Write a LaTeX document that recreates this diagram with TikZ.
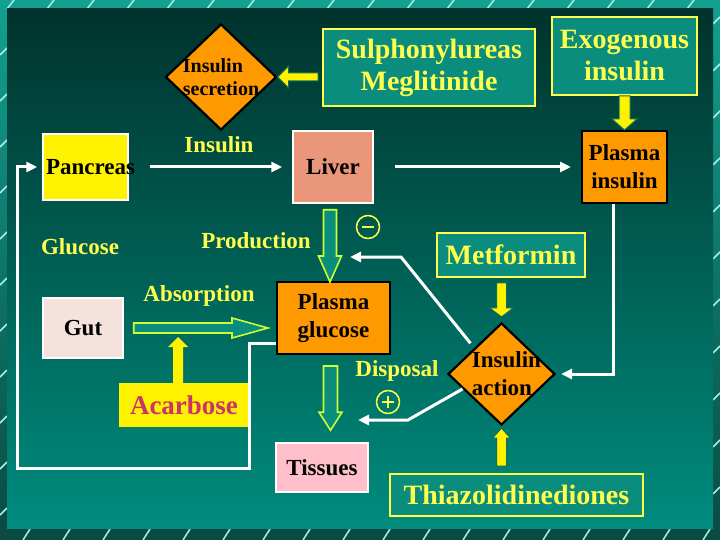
\documentclass[tikz,border=0pt]{standalone}
\usepackage{fontspec}
\setmainfont{Liberation Serif}
\usetikzlibrary{shapes.geometric, arrows.meta, calc, positioning}

\definecolor{frametop}{HTML}{12A090}
\definecolor{framebot}{HTML}{0A4A42}
\definecolor{paneltop}{HTML}{00332C}
\definecolor{panelbot}{HTML}{008C7E}
\definecolor{slashcol}{HTML}{A8F0EC}
\definecolor{txtyellow}{HTML}{FFFF4D}
\definecolor{boxteal}{HTML}{0A8D7D}
\definecolor{limeedge}{HTML}{CCFF33}
\definecolor{darkedge}{HTML}{0E6E5A}
\definecolor{orangefill}{HTML}{FF9900}
\definecolor{salmonfill}{HTML}{E9967A}
\definecolor{gutfill}{HTML}{F6E2DC}
\definecolor{tissuefill}{HTML}{FFC0CB}
\definecolor{acarbtext}{HTML}{CC3366}

\newcommand\slidebig{\fontsize{28}{32}\selectfont\bfseries}
\newcommand\slidemid{\fontsize{23}{28}\selectfont\bfseries}
\newcommand\slidesmall{\fontsize{20}{23}\selectfont\bfseries}

\tikzset{
    arrdims/.code args={#1/#2/#3}{\def\arrsh{#1pt}\def\arrwg{#2pt}\def\arrhd{#3pt}},
    blockarrow/.style={arrdims=#1, to path={let \p1=(\tikztostart), \p2=(\tikztotarget),
        \p3=($(\p2)!\arrhd!(\p1)$) in
        ($(\p1)!\arrsh!90:(\p2)$) -- ($(\p3)!\arrsh!-90:(\p1)$) -- ($(\p3)!\arrwg!-90:(\p1)$)
        -- (\p2) -- ($(\p3)!\arrwg!90:(\p1)$) -- ($(\p3)!\arrsh!90:(\p1)$)
        -- ($(\p1)!\arrsh!-90:(\p2)$) -- cycle}},
    yarrow/.style={fill=yellow, draw=darkedge, line width=1pt},
    hollow/.style={fill=boxteal, draw=limeedge, line width=1.6pt},
    wire/.style={draw=white, line width=3pt, -{Triangle[width=10pt,length=11pt]}},
    tealbox/.style={rectangle, draw=txtyellow, line width=1.6pt, fill=boxteal, text=txtyellow, font=\slidebig, align=center, inner sep=0pt},
    orangebox/.style={rectangle, draw=black, line width=2pt, fill=orangefill, font=\slidemid, align=center, inner sep=0pt},
    whitebox/.style={rectangle, draw=white, line width=1.5pt, font=\slidemid, align=center, inner sep=0pt},
    diam/.style={diamond, draw=black, line width=2.2pt, fill=orangefill, inner sep=0pt},
    lbl/.style={text=txtyellow, font=\slidemid},
    sign/.style={circle, draw=txtyellow, line width=1.5pt, minimum size=23pt, inner sep=0pt},
    slash/.style={draw=slashcol, line width=1.5pt}
}

\begin{document}
\begin{tikzpicture}[x=1pt, y=-1pt]
    % frame and panel
    \path[top color=frametop, bottom color=framebot] (0,0) rectangle (720,540);
    \useasboundingbox (0,0) rectangle (720,540);
    \foreach \x in {7,47,...,700} {
        \draw[slash] (\x,9) -- ++(7,-9);
        \draw[slash] (\x+16,540) -- ++(7,-11);
    }
    \foreach \y in {48,94,...,520} \draw[slash] (0,\y+7) -- ++(7,-7);
    \foreach \y in {17,64,...,530} \draw[slash] (713,\y+7) -- ++(7,-7);
    \path[top color=paneltop, bottom color=panelbot] (7,9) rectangle (713,528);

    % drug boxes
    \node[tealbox, minimum width=212pt, minimum height=77pt] (sulf) at (429,67.5) {Sulphonylureas\\Meglitinide};
    \node[tealbox, minimum width=145pt, minimum height=78pt] (exo) at (624.5,56) {Exogenous\\insulin};
    \node[tealbox, minimum width=148pt, minimum height=44pt] (metf) at (511,255) {Metformin};
    \node[tealbox, minimum width=253pt, minimum height=42pt] (thz) at (516.5,495) {Thiazolidinediones};
    \node[fill=yellow, text=acarbtext, font=\fontsize{27}{30}\selectfont\bfseries, minimum width=130pt, minimum height=44pt, inner sep=0pt] (acarb) at (184,405) {Acarbose};

    % organs and pools
    \node[whitebox, fill=yellow, text width=79pt, inner sep=3pt, minimum height=66pt] (panc) at (85.5,167) {Pancreas};
    \node[whitebox, fill=salmonfill, minimum width=80pt, minimum height=72pt] (liver) at (333,167) {Liver};
    \node[whitebox, fill=gutfill, minimum width=80pt, minimum height=60pt] (gut) at (83,328) {Gut};
    \node[whitebox, fill=tissuefill, minimum width=92pt, minimum height=49pt] (tis) at (322,467.5) {Tissues};
    \node[orangebox, minimum width=85pt, minimum height=72pt] (pins) at (624.5,167) {Plasma\\insulin};
    \node[orangebox, minimum width=113pt, minimum height=72pt] (pg) at (333.5,318) {Plasma\\glucose};

    \node[diam, minimum width=111pt, minimum height=106pt,
        label={[font=\slidesmall, align=left]center:Insulin\\secretion}] (secr) at (221,77) {};
    \node[diam, minimum width=107pt, minimum height=102pt,
        label={[font=\slidemid, align=left, xshift=5pt]center:Insulin\\action}] (act) at (501.5,374) {};

    % labels
    \node[lbl] (inslbl) at (219,145) {Insulin};
    \node[lbl] (glulbl) at (80,247) {Glucose};
    \node[lbl] (prodlbl) at (256,241) {Production};
    \node[lbl] (abslbl) at (199,296) {Absorption};
    \node[lbl] (displbl) at (397,371) {Disposal};

    \node[sign, path picture={\draw[txtyellow, line width=1.5pt]
        ([xshift=-6pt]path picture bounding box.center) -- ([xshift=6pt]path picture bounding box.center);}] (minus) at (368,227) {};
    \node[sign, path picture={\draw[txtyellow, line width=1.5pt]
        ([xshift=-6pt]path picture bounding box.center) -- ([xshift=6pt]path picture bounding box.center)
        ([yshift=-6pt]path picture bounding box.center) -- ([yshift=6pt]path picture bounding box.center);}] (plus) at (388,402) {};

    \coordinate (inhib) at (350,257);
    \coordinate (promote) at (358,420);
    \coordinate (absorb) at (178,337);
    \coordinate (loop) at (17,468);

    % glucose flow
    \draw[hollow, blockarrow=5/10/36] ($(gut.east)+(10,0)$) to ($(gut.east -| pg.west)+(-8,0)$);
    \draw[hollow, blockarrow=6.5/11.5/26] ($(liver.south)+(-3,6)$) to ($(liver.south |- pg.north)+(-3,1)$);
    \draw[hollow, blockarrow=7/11.5/18] ($(pg.south)+(-3,11)$) to ($(pg.south |- tis.north)+(-3,-12)$);

    % drug actions
    \draw[yarrow, blockarrow=4/11/11] ($(sulf.west |- secr.east)+(-4,0)$) to (secr.east);
    \draw[yarrow, blockarrow=5.5/12.5/11] (exo.south) to (exo.south |- pins.north);
    \draw[yarrow, blockarrow=5/12/9] ($(act.north |- metf.south)+(0,5)$) to ($(act.north)+(0,-5)$);
    \draw[yarrow, blockarrow=5/9/10] ($(act.south |- thz.north)+(0,-7)$) to ($(act.south)+(0,2)$);
    \draw[yarrow, draw=none, blockarrow=5/10/10] (acarb.north -| absorb) to (absorb);

    % insulin signals
    \draw[wire, shorten <=21pt, shorten >=10pt] (panc.east) -- (liver.west);
    \draw[wire, shorten <=21pt, shorten >=10pt] (liver.east) -- (pins.west);
    \draw[wire, shorten >=5pt] ([xshift=-11pt]pins.south) |- (act.east);
    \draw[wire, shorten <=6pt] (act.north west) -- (401,257) -- (inhib);
    \draw[wire] (act.201) -- (408,420) -- (promote);
    \draw[wire, shorten >=5pt] ([yshift=12pt]pg.south west) -- ++(-27,0) |- (loop) |- (panc.west);
\end{tikzpicture}
\end{document}
